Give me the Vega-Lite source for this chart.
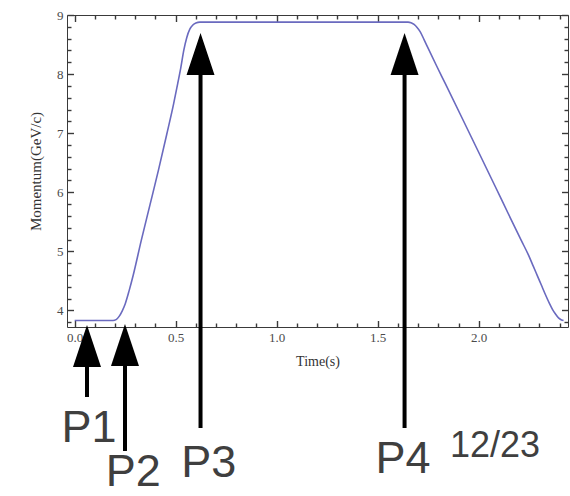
{
  "$schema": "https://vega.github.io/schema/vega-lite/v6.json",
  "width": 501,
  "height": 312,
  "autosize": "none",
  "padding": {"left": 67, "top": 15, "right": 2, "bottom": 169},
  "background": "white",
  "config": {
    "view": {"stroke": "#3a3a3a", "strokeWidth": 1},
    "axis": {
      "grid": false,
      "domain": false,
      "ticks": true,
      "tickColor": "#3a3a3a",
      "tickWidth": 1.4,
      "labelFont": "Liberation Serif",
      "labelFontSize": 13,
      "labelColor": "#4a4a4a",
      "labelOverlap": false,
      "labelFlush": false,
      "titleFont": "Liberation Serif",
      "titleFontSize": 14,
      "titleFontWeight": "normal",
      "titleColor": "#333"
    }
  },
  "datasets": {
    "curve": [
      {"t": 0, "p": 3.83}, {"t": 0.1, "p": 3.83}, {"t": 0.19, "p": 3.83}, {"t": 0.205, "p": 3.845},
      {"t": 0.22, "p": 3.9}, {"t": 0.235, "p": 3.99}, {"t": 0.25, "p": 4.11}, {"t": 0.27, "p": 4.34},
      {"t": 0.29, "p": 4.6}, {"t": 0.33, "p": 5.19}, {"t": 0.373, "p": 5.79}, {"t": 0.415, "p": 6.38},
      {"t": 0.455, "p": 6.97}, {"t": 0.49, "p": 7.5}, {"t": 0.51, "p": 7.84}, {"t": 0.525, "p": 8.1},
      {"t": 0.54, "p": 8.4}, {"t": 0.555, "p": 8.62}, {"t": 0.57, "p": 8.76}, {"t": 0.585, "p": 8.83},
      {"t": 0.6, "p": 8.865}, {"t": 0.62, "p": 8.88}, {"t": 1.0, "p": 8.88}, {"t": 1.4, "p": 8.88},
      {"t": 1.65, "p": 8.88}, {"t": 1.665, "p": 8.87}, {"t": 1.68, "p": 8.84}, {"t": 1.695, "p": 8.79},
      {"t": 1.71, "p": 8.72}, {"t": 1.73, "p": 8.58}, {"t": 1.75, "p": 8.435}, {"t": 1.79, "p": 8.15},
      {"t": 1.833, "p": 7.85}, {"t": 1.92, "p": 7.24}, {"t": 1.998, "p": 6.69}, {"t": 2.08, "p": 6.11},
      {"t": 2.163, "p": 5.52}, {"t": 2.21, "p": 5.19}, {"t": 2.246, "p": 4.94}, {"t": 2.27, "p": 4.75},
      {"t": 2.29, "p": 4.59}, {"t": 2.31, "p": 4.43}, {"t": 2.33, "p": 4.27}, {"t": 2.35, "p": 4.12},
      {"t": 2.365, "p": 4.02}, {"t": 2.38, "p": 3.94}, {"t": 2.395, "p": 3.875}, {"t": 2.41, "p": 3.84},
      {"t": 2.42, "p": 3.83}
    ],
    "arrows": [
      {"name": "P1", "t": 0.061, "tip": 3.754, "base": 3.06, "bottom": 2.535},
      {"name": "P2", "t": 0.249, "tip": 3.771, "base": 3.075, "bottom": 1.622},
      {"name": "P3", "t": 0.623, "tip": 8.695, "base": 8.0, "bottom": 2.011},
      {"name": "P4", "t": 1.633, "tip": 8.695, "base": 8.0, "bottom": 2.011}
    ],
    "labels": [
      {"label": "P1", "t": 0.0704, "v": 1.779},
      {"label": "P2", "t": 0.29, "v": 1.03},
      {"label": "P3", "t": 0.664, "v": 1.181},
      {"label": "P4", "t": 1.625, "v": 1.249},
      {"label": "12/23", "t": 2.081, "v": 1.52}
    ]
  },
  "resolve": {"axis": {"x": "independent", "y": "independent"}},
  "layer": [
    {
      "data": {"name": "curve"},
      "mark": {"type": "line", "color": "#6a6abf", "strokeWidth": 1.6, "interpolate": "monotone"},
      "encoding": {
        "x": {
          "field": "t", "type": "quantitative",
          "scale": {"domain": [-0.038, 2.442], "nice": false, "zero": false},
          "axis": {"orient": "bottom", "title": "Time(s)", "values": [0, 0.5, 1, 1.5, 2], "format": ".1f",
                   "tickSize": -6.5, "labelPadding": 10.5, "titlePadding": 10}
        },
        "y": {
          "field": "p", "type": "quantitative",
          "scale": {"domain": [3.72, 9], "nice": false, "zero": false},
          "axis": {"orient": "left", "title": "Momentum(GeV/c)", "values": [4, 5, 6, 7, 8, 9], "format": "d",
                   "tickSize": -6.5, "labelPadding": 10.5, "titlePadding": 13, "titleFontSize": 15}
        }
      }
    },
    {
      "data": {"name": "arrows"},
      "mark": {"type": "rule", "color": "black", "strokeWidth": 4},
      "encoding": {
        "x": {
          "field": "t", "type": "quantitative",
          "axis": {"orient": "bottom", "title": null, "labels": false,
                   "values": [0.1, 0.2, 0.3, 0.4, 0.6, 0.7, 0.8, 0.9, 1.1, 1.2, 1.3, 1.4, 1.6, 1.7, 1.8, 1.9, 2.1, 2.2, 2.3, 2.4],
                   "tickSize": -4}
        },
        "y": {
          "field": "base", "type": "quantitative",
          "axis": {"orient": "left", "title": null, "labels": false,
                   "values": [3.8, 4.2, 4.4, 4.6, 4.8, 5.2, 5.4, 5.6, 5.8, 6.2, 6.4, 6.6, 6.8, 7.2, 7.4, 7.6, 7.8, 8.2, 8.4, 8.6, 8.8],
                   "tickSize": -4}
        },
        "y2": {"field": "bottom"}
      }
    },
    {
      "data": {"name": "arrows"},
      "mark": {"type": "point", "shape": "M0,0L1,3L-1,3Z", "size": 784, "filled": true, "color": "black", "opacity": 1, "strokeWidth": 0},
      "encoding": {
        "x": {
          "field": "t", "type": "quantitative",
          "axis": {"orient": "top", "title": null, "labels": false, "values": [0, 0.5, 1, 1.5, 2],
                   "tickSize": -6.5}
        },
        "y": {
          "field": "tip", "type": "quantitative",
          "axis": {"orient": "right", "title": null, "labels": false, "values": [4, 5, 6, 7, 8, 9],
                   "tickSize": -6.5}
        }
      }
    },
    {
      "data": {"name": "labels"},
      "mark": {"type": "text", "font": "Liberation Sans", "color": "#3f3f3f", "align": "center", "baseline": "alphabetic"},
      "encoding": {
        "x": {
          "field": "t", "type": "quantitative",
          "axis": {"orient": "top", "title": null, "labels": false,
                   "values": [0.1, 0.2, 0.3, 0.4, 0.6, 0.7, 0.8, 0.9, 1.1, 1.2, 1.3, 1.4, 1.6, 1.7, 1.8, 1.9, 2.1, 2.2, 2.3, 2.4],
                   "tickSize": -4}
        },
        "y": {
          "field": "v", "type": "quantitative",
          "axis": {"orient": "right", "title": null, "labels": false,
                   "values": [3.8, 4.2, 4.4, 4.6, 4.8, 5.2, 5.4, 5.6, 5.8, 6.2, 6.4, 6.6, 6.8, 7.2, 7.4, 7.6, 7.8, 8.2, 8.4, 8.6, 8.8],
                   "tickSize": -4}
        },
        "text": {"field": "label", "type": "nominal"},
        "size": {"condition": {"test": "datum.label === '12/23'", "value": 36}, "value": 45}
      }
    }
  ]
}
